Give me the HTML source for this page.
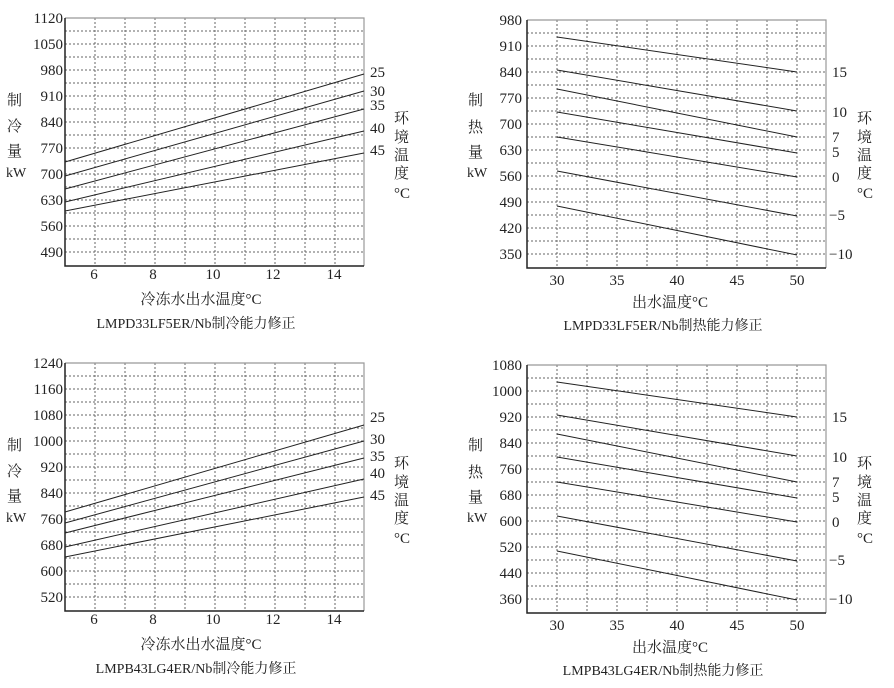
<!DOCTYPE html>
<html><head><meta charset="utf-8"><style>
html,body{margin:0;padding:0;background:#fff}
svg{display:block}
text{font-family:"Liberation Serif","Noto Serif CJK SC",serif;font-size:15px;fill:#222}
.c{font-size:14px}
</style></head><body>
<svg width="894" height="688" viewBox="0 0 894 688" xmlns="http://www.w3.org/2000/svg">

<!-- top-left -->
<g>
<path d="M65 31H364M65 44H364M65 57H364M65 70H364M65 83H364M65 96H364M65 109H364M65 122H364M65 135H364M65 148H364M65 161H364M65 174H364M65 187H364M65 200H364M65 213H364M65 226H364M65 239H364M65 252H364M95 18V266M125 18V266M155 18V266M185 18V266M215 18V266M245 18V266M275 18V266M305 18V266M335 18V266" stroke="#666" stroke-width="1" stroke-dasharray="2,2" fill="none"/>
<path d="M65 18H364V266" stroke="#999" stroke-width="1.2" fill="none"/>
<path d="M65 18V266H364" stroke="#222" stroke-width="1.5" fill="none"/>
<g text-anchor="middle"><text x="94" y="279">6</text><text x="153" y="279">8</text><text x="213" y="279">10</text><text x="273" y="279">12</text><text x="334" y="279">14</text></g>
<text x="7" y="105">制</text><text x="7" y="131">冷</text><text x="7" y="156">量</text><text x="6" y="177" class="c">kW</text>
<text x="394" y="123">环</text><text x="394" y="142">境</text><text x="394" y="160">温</text><text x="394" y="178">度</text><text x="394" y="198">°C</text>
</g>
<g text-anchor="end"><text x="63" y="23">1120</text><text x="63" y="49">1050</text><text x="63" y="75">980</text><text x="63" y="101">910</text><text x="63" y="127">840</text><text x="63" y="153">770</text><text x="63" y="179">700</text><text x="63" y="205">630</text><text x="63" y="231">560</text><text x="63" y="257">490</text></g>
<g stroke="#222" stroke-width="1" fill="none">
<line x1="65" y1="162" x2="364" y2="74"/><line x1="65" y1="176" x2="364" y2="91"/><line x1="65" y1="189" x2="364" y2="109"/><line x1="65" y1="202" x2="364" y2="131"/><line x1="65" y1="211" x2="364" y2="153"/></g>
<g><text x="370" y="77">25</text><text x="370" y="96">30</text><text x="370" y="110">35</text><text x="370" y="133">40</text><text x="370" y="155">45</text></g>
<text x="201" y="304" text-anchor="middle">冷冻水出水温度°C</text>
<text x="196" y="328" text-anchor="middle" class="c">LMPD33LF5ER/Nb制冷能力修正</text>

<!-- top-right -->
<g>
<path d="M527 33H826M527 46H826M527 59H826M527 72H826M527 85H826M527 98H826M527 111H826M527 124H826M527 137H826M527 150H826M527 163H826M527 176H826M527 189H826M527 202H826M527 215H826M527 228H826M527 241H826M527 254H826M557 20V268M587 20V268M617 20V268M647 20V268M677 20V268M707 20V268M737 20V268M767 20V268M797 20V268" stroke="#666" stroke-width="1" stroke-dasharray="2,2" fill="none"/>
<path d="M527 20H826V268" stroke="#999" stroke-width="1.2" fill="none"/>
<path d="M527 20V268H826" stroke="#222" stroke-width="1.5" fill="none"/>
<g text-anchor="middle"><text x="557" y="285">30</text><text x="617" y="285">35</text><text x="677" y="285">40</text><text x="737" y="285">45</text><text x="797" y="285">50</text></g>
<text x="468" y="105">制</text><text x="468" y="132">热</text><text x="468" y="157">量</text><text x="467" y="177" class="c">kW</text>
<text x="857" y="123">环</text><text x="857" y="142">境</text><text x="857" y="160">温</text><text x="857" y="178">度</text><text x="857" y="198">°C</text>
<text x="832" y="77">15</text><text x="832" y="117">10</text><text x="832" y="142">7</text><text x="832" y="157">5</text><text x="832" y="182">0</text><text x="829" y="220">−5</text><text x="829" y="259">−10</text>
</g>
<g text-anchor="end"><text x="522" y="25">980</text><text x="522" y="51">910</text><text x="522" y="77">840</text><text x="522" y="103">770</text><text x="522" y="129">700</text><text x="522" y="155">630</text><text x="522" y="181">560</text><text x="522" y="207">490</text><text x="522" y="233">420</text><text x="522" y="259">350</text></g>
<g stroke="#222" stroke-width="1" fill="none">
<line x1="557" y1="37" x2="797" y2="72"/><line x1="557" y1="70" x2="797" y2="111"/><line x1="557" y1="89" x2="797" y2="137"/><line x1="557" y1="112" x2="797" y2="153"/><line x1="557" y1="137" x2="797" y2="177"/><line x1="557" y1="171" x2="797" y2="216"/><line x1="557" y1="206" x2="797" y2="255"/></g>
<text x="670" y="307" text-anchor="middle">出水温度°C</text>
<text x="663" y="330" text-anchor="middle" class="c">LMPD33LF5ER/Nb制热能力修正</text>

<!-- bottom-left -->
<g transform="translate(0,345)">
<path d="M65 31H364M65 44H364M65 57H364M65 70H364M65 83H364M65 96H364M65 109H364M65 122H364M65 135H364M65 148H364M65 161H364M65 174H364M65 187H364M65 200H364M65 213H364M65 226H364M65 239H364M65 252H364M95 18V266M125 18V266M155 18V266M185 18V266M215 18V266M245 18V266M275 18V266M305 18V266M335 18V266" stroke="#666" stroke-width="1" stroke-dasharray="2,2" fill="none"/>
<path d="M65 18H364V266" stroke="#999" stroke-width="1.2" fill="none"/>
<path d="M65 18V266H364" stroke="#222" stroke-width="1.5" fill="none"/>
<g text-anchor="middle"><text x="94" y="279">6</text><text x="153" y="279">8</text><text x="213" y="279">10</text><text x="273" y="279">12</text><text x="334" y="279">14</text></g>
<text x="7" y="105">制</text><text x="7" y="131">冷</text><text x="7" y="156">量</text><text x="6" y="177" class="c">kW</text>
<text x="394" y="123">环</text><text x="394" y="142">境</text><text x="394" y="160">温</text><text x="394" y="178">度</text><text x="394" y="198">°C</text>
</g>
<g text-anchor="end"><text x="63" y="368">1240</text><text x="63" y="394">1160</text><text x="63" y="420">1080</text><text x="63" y="446">1000</text><text x="63" y="472">920</text><text x="63" y="498">840</text><text x="63" y="524">760</text><text x="63" y="550">680</text><text x="63" y="576">600</text><text x="63" y="602">520</text></g>
<g stroke="#222" stroke-width="1" fill="none">
<line x1="65" y1="512" x2="364" y2="425"/><line x1="65" y1="523" x2="364" y2="441"/><line x1="65" y1="533" x2="364" y2="458"/><line x1="65" y1="547" x2="364" y2="479"/><line x1="65" y1="557" x2="364" y2="497"/></g>
<g><text x="370" y="422">25</text><text x="370" y="444">30</text><text x="370" y="461">35</text><text x="370" y="478">40</text><text x="370" y="500">45</text></g>
<text x="201" y="649" text-anchor="middle">冷冻水出水温度°C</text>
<text x="196" y="673" text-anchor="middle" class="c">LMPB43LG4ER/Nb制冷能力修正</text>

<!-- bottom-right -->
<g transform="translate(0,345)">
<path d="M527 33H826M527 46H826M527 59H826M527 72H826M527 85H826M527 98H826M527 111H826M527 124H826M527 137H826M527 150H826M527 163H826M527 176H826M527 189H826M527 202H826M527 215H826M527 228H826M527 241H826M527 254H826M557 20V268M587 20V268M617 20V268M647 20V268M677 20V268M707 20V268M737 20V268M767 20V268M797 20V268" stroke="#666" stroke-width="1" stroke-dasharray="2,2" fill="none"/>
<path d="M527 20H826V268" stroke="#999" stroke-width="1.2" fill="none"/>
<path d="M527 20V268H826" stroke="#222" stroke-width="1.5" fill="none"/>
<g text-anchor="middle"><text x="557" y="285">30</text><text x="617" y="285">35</text><text x="677" y="285">40</text><text x="737" y="285">45</text><text x="797" y="285">50</text></g>
<text x="468" y="105">制</text><text x="468" y="132">热</text><text x="468" y="157">量</text><text x="467" y="177" class="c">kW</text>
<text x="857" y="123">环</text><text x="857" y="142">境</text><text x="857" y="160">温</text><text x="857" y="178">度</text><text x="857" y="198">°C</text>
<text x="832" y="77">15</text><text x="832" y="117">10</text><text x="832" y="142">7</text><text x="832" y="157">5</text><text x="832" y="182">0</text><text x="829" y="220">−5</text><text x="829" y="259">−10</text>
<text x="670" y="307" text-anchor="middle">出水温度°C</text>
<text x="663" y="330" text-anchor="middle" class="c">LMPB43LG4ER/Nb制热能力修正</text>
</g>
<g text-anchor="end"><text x="522" y="370">1080</text><text x="522" y="396">1000</text><text x="522" y="422">920</text><text x="522" y="448">840</text><text x="522" y="474">760</text><text x="522" y="500">680</text><text x="522" y="526">600</text><text x="522" y="552">520</text><text x="522" y="578">440</text><text x="522" y="604">360</text></g>
<g stroke="#222" stroke-width="1" fill="none">
<line x1="557" y1="382" x2="797" y2="417"/><line x1="557" y1="415" x2="797" y2="456"/><line x1="557" y1="434" x2="797" y2="482"/><line x1="557" y1="457" x2="797" y2="498"/><line x1="557" y1="482" x2="797" y2="522"/><line x1="557" y1="516" x2="797" y2="561"/><line x1="557" y1="551" x2="797" y2="600"/></g>
</svg>
</body></html>
